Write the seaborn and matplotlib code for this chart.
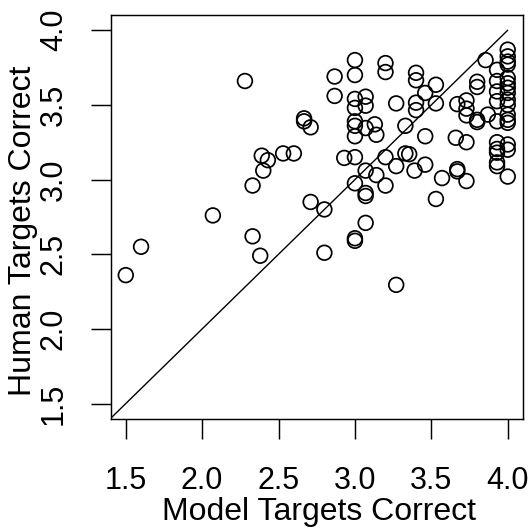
import matplotlib
matplotlib.use("Agg")
import matplotlib.pyplot as plt
import seaborn as sns
import pandas as pd

# Values
model_correct = [
    1.50, 1.60, 2.07, 2.28, 2.33, 2.33, 2.38, 2.39, 2.43, 2.40,
    2.53, 2.60, 2.667, 2.667, 2.71, 2.71, 2.80, 2.80, 2.867, 2.867,
    2.93,
    3.0, 3.0, 3.0, 3.0, 3.0, 3.0, 3.0, 3.0, 3.0, 3.0, 3.0,
    3.07, 3.07, 3.07, 3.07, 3.07, 3.07, 3.07,
    3.13, 3.14, 3.14,
    3.20, 3.20, 3.20, 3.20,
    3.27, 3.27, 3.27,
    3.33, 3.33, 3.355,
    3.40, 3.40, 3.40, 3.40, 3.39,
    3.46, 3.46, 3.46,
    3.53, 3.53, 3.53, 3.57,
    3.67, 3.66, 3.67, 3.67,
    3.73, 3.73, 3.73, 3.73, 3.73,
    3.80, 3.80, 3.80, 3.80, 3.855, 3.87,
    3.93, 3.93, 3.93, 3.93, 3.93, 3.93, 3.93, 3.93, 3.93, 3.93,
    4.0, 4.0, 4.0, 4.0, 4.0, 4.0, 4.0, 4.0, 4.0, 4.0, 4.0, 4.0, 4.0,
    4.0, 4.0, 4.0,
]
human_correct = [
    2.36, 2.55, 2.76, 3.66, 2.96, 2.62, 2.49, 3.16, 3.13, 3.06,
    3.175, 3.175, 3.41, 3.39, 3.35, 2.85, 2.80, 2.51, 3.69, 3.56,
    3.145,
    3.80, 3.70, 3.54, 3.48, 3.39, 3.36, 3.29, 3.15, 2.975, 2.607, 2.59,
    3.555, 3.495, 3.345, 3.06, 2.91, 2.89, 2.71,
    3.37, 3.30, 3.03,
    3.78, 3.72, 3.15, 2.96,
    3.51, 3.09, 2.295,
    3.36, 3.175, 3.17,
    3.715, 3.665, 3.515, 3.465, 3.06,
    3.58, 3.29, 3.10,
    3.635, 3.51, 2.87, 3.01,
    3.505, 3.28, 3.07, 3.055,
    3.53, 3.475, 3.43, 3.25, 2.99,
    3.655, 3.62, 3.40, 3.385, 3.80, 3.435,
    3.735, 3.66, 3.59, 3.525, 3.39, 3.25, 3.205, 3.18, 3.115, 3.09,
    3.87, 3.825, 3.79, 3.77, 3.68, 3.645, 3.615, 3.58, 3.535, 3.50,
    3.435, 3.40, 3.38, 3.235, 3.20, 3.02,
]
diag = [1.4, 4.0]
tick_values = [1.5, 2.0, 2.5, 3.0, 3.5, 4.0]
tick_labels = ["1.5", "2.0", "2.5", "3.0", "3.5", "4.0"]

df = pd.DataFrame({"Model Targets Correct": model_correct,
                   "Human Targets Correct": human_correct})

sns.set_theme(style="white")
plt.rcParams["font.family"] = ["Liberation Sans", "DejaVu Sans"]

fig = plt.figure(figsize=(5.32, 5.29), dpi=100)
ax = fig.add_axes([110.5 / 532, 1 - 418.5 / 529, (523 - 110.5) / 532, (418.5 - 15.3) / 529])

sns.scatterplot(data=df, x="Model Targets Correct", y="Human Targets Correct",
                ax=ax, marker="o", s=112, facecolor="none", edgecolor="black",
                linewidth=1.25, zorder=3)
for coll in ax.collections:
    coll.set_facecolor("none")
    coll.set_edgecolor("black")

sns.lineplot(x=diag, y=diag, ax=ax, color="black", linewidth=1.0, zorder=2)

ax.set_xlim(1.4, 4.1)
ax.set_ylim(1.4, 4.1)

ax.set_xticks(tick_values)
ax.set_xticklabels(tick_labels)
ax.set_yticks(tick_values)
ax.set_yticklabels(tick_labels, rotation=90, va="center")

fs = 22
ax.tick_params(axis="both", direction="out", length=14.4, width=1.05,
               color="black", labelsize=fs, labelcolor="black")
ax.tick_params(axis="x", pad=20)
ax.tick_params(axis="y", pad=15.5)
ax.tick_params(bottom=True, left=True)

for sp in ax.spines.values():
    sp.set_color("black")
    sp.set_linewidth(1.05)
    sp.set_visible(True)

ax.set_xlabel("Model Targets Correct", fontsize=23, color="black")
ax.set_ylabel("Human Targets Correct", fontsize=23, color="black")
ax.xaxis.set_label_coords(0.505, -0.194)
ax.yaxis.set_label_coords(-0.175, 0.465)

fig.savefig("out.png", dpi=100)
